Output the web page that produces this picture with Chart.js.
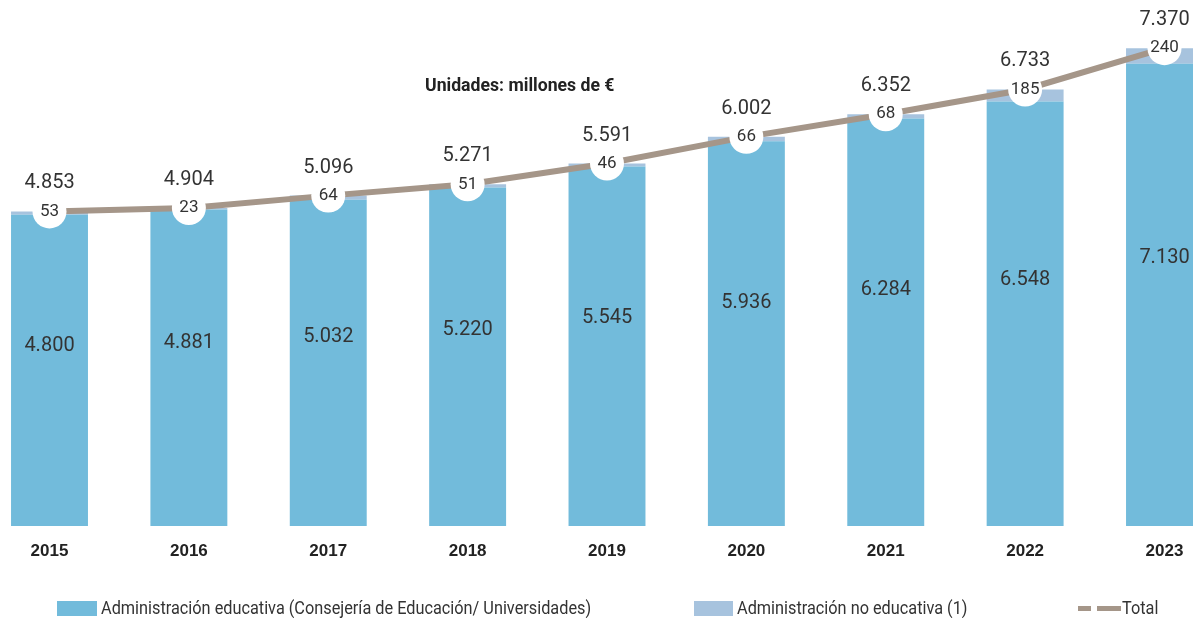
<!DOCTYPE html>
<html>
<head>
<meta charset="utf-8">
<script src="https://cdn.jsdelivr.net/npm/chart.js@4/dist/chart.umd.min.js"></script>
<style>
  body { margin: 0; background: #fff; }
  #wrap { position: relative; width: 1193px; height: 618px; }
  .txt { position: absolute; font-family: Roboto, sans-serif; color: #333; white-space: nowrap; transform-origin: left center; }
  .leg { font-size: 18px; transform: scaleX(0.905); }
  .box { position: absolute; height: 15px; }
  .dash { position: absolute; height: 5px; background: #a59689; }
</style>
</head>
<body>
<div id="wrap">
  <canvas id="myChart" width="1193" height="618"></canvas>
  <div class="txt" style="left:425px; top:74px; font-size:18px; font-weight:bold; color:#222; transform: scaleX(0.98);">Unidades: millones de €</div>
  <div class="box" style="left:57px; top:601px; width:40px; background:#72bbdb;"></div>
  <div class="txt leg" style="left:101px; top:597px;">Administración educativa (Consejería de Educación/ Universidades)</div>
  <div class="box" style="left:694px; top:601px; width:39px; background:#a7c3de;"></div>
  <div class="txt leg" style="left:737px; top:597px;">Administración no educativa (1)</div>
  <div class="dash" style="left:1078px; top:606px; width:13px;"></div>
  <div class="dash" style="left:1097px; top:606px; width:24px;"></div>
  <div class="txt leg" style="left:1122px; top:597px;">Total</div>
</div>
<script>
var years = ["2015", "2016", "2017", "2018", "2019", "2020", "2021", "2022", "2023"];
var educativa = [4800, 4881, 5032, 5220, 5545, 5936, 6284, 6548, 7130];
var noEducativa = [53, 23, 64, 51, 46, 66, 68, 185, 240];
var total = [4853, 4904, 5096, 5271, 5591, 6002, 6352, 6733, 7370];

function fmt(n) {
    return String(n).replace(/\B(?=(\d{3})+(?!\d))/g, '.');
}

// labels on bars and circles
var labelPlugin = {
    id: 'labels',
    afterDatasetsDraw: function(chart) {
        var ctx = chart.ctx;
        var y = chart.scales.y;
        var lineMeta = chart.getDatasetMeta(0);
        ctx.save();
        ctx.fillStyle = '#333';
        ctx.textAlign = 'center';
        ctx.textBaseline = 'middle';
        for (var i = 0; i < years.length; i++) {
            var x = lineMeta.data[i].x;
            ctx.font = '20px Roboto, sans-serif';
            ctx.fillText(fmt(total[i]), x, y.getPixelForValue(total[i]) - 28);
            ctx.fillText(fmt(educativa[i]), x, y.getPixelForValue(educativa[i] * 0.58));
            ctx.font = '17px Roboto, sans-serif';
            ctx.fillText(fmt(noEducativa[i]), x, lineMeta.data[i].y);
        }
        ctx.restore();
    }
};

var ctx = document.getElementById('myChart').getContext('2d');
var chart = new Chart(ctx, {
    type: 'bar',
    data: {
        labels: years,
        datasets: [{
            type: 'line',
            label: 'Total',
            data: total,
            stack: 'total',
            order: 0,
            borderColor: '#a59689',
            borderWidth: 6,
            pointRadius: 17,
            pointBackgroundColor: '#fff',
            pointBorderColor: '#fff',
            pointBorderWidth: 0,
            clip: false
        }, {
            label: 'Administración educativa (Consejería de Educación/ Universidades)',
            data: educativa,
            stack: 'bars',
            order: 1,
            backgroundColor: '#72bbdb',
            clip: false
        }, {
            label: 'Administración no educativa (1)',
            data: noEducativa,
            stack: 'bars',
            order: 2,
            backgroundColor: '#a7c3de',
            clip: false
        }]
    },
    options: {
        responsive: false,
        animation: false,
        layout: { autoPadding: false, padding: { left: 49.5, right: 28.5, top: 7.3, bottom: 48.5 } },
        datasets: { bar: { categoryPercentage: 1, barPercentage: 0.552 } },
        scales: {
            x: {
                stacked: true,
                offset: false,
                grid: { display: false },
                border: { display: false },
                ticks: {
                    padding: 7.5,
                    color: '#222',
                    font: { family: '"Liberation Sans", Arial, sans-serif', size: 17, weight: 'bold' }
                }
            },
            y: {
                stacked: true,
                display: false,
                min: 0,
                max: 8000
            }
        },
        plugins: {
            legend: { display: false },
            tooltip: { enabled: false }
        }
    },
    plugins: [labelPlugin]
});
</script>
</body>
</html>
